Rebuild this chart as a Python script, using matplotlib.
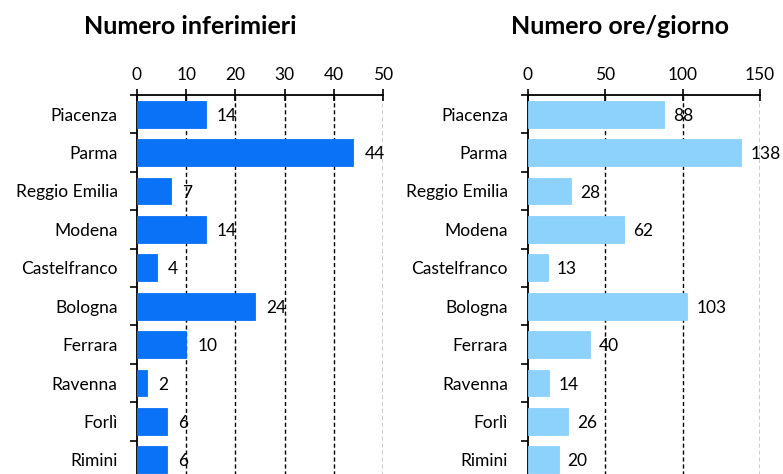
import matplotlib.pyplot as plt
import numpy as np

plt.rcParams['font.family'] = ['Lato', 'DejaVu Sans']

provinces = ["Piacenza", "Parma", "Reggio Emilia", "Modena", "Castelfranco",
             "Bologna", "Ferrara", "Ravenna", "Forlì", "Rimini"]
nurses = [14, 44, 7, 14, 4, 24, 10, 2, 6, 6]
hours_per_day = [88, 138, 28, 62, 13, 103, 40, 14, 26, 20]

W, H = 783, 474


def draw_panel(ax, values, color, xmax, step, label_offset):
    y = np.arange(len(provinces))
    ax.barh(y, values, height=0.7, color=color, edgecolor=color,
            linewidth=0.6, zorder=3)
    ax.set_ylim(len(provinces) - 0.5, -0.5)
    ax.set_xlim(0, xmax)

    ax.xaxis.set_ticks_position('top')
    ax.set_xticks(np.arange(0, xmax + 1, step))
    ax.tick_params(axis='x', direction='inout', length=8, width=1.2,
                   pad=5, labelsize=12.5)

    ax.set_yticks(y)
    ax.set_yticklabels(provinces)
    ax.set_yticks(np.arange(len(provinces) + 1) - 0.5, minor=True)
    ax.tick_params(axis='y', which='major', length=0, pad=14, labelsize=12.5)
    ax.tick_params(axis='y', which='minor', direction='out', length=5,
                   width=1.2)

    for xv in np.arange(step, xmax + 1, step):
        ax.axvline(xv, color='black', linestyle=(0, (3, 2)), linewidth=1,
                   zorder=1)

    for s in ['right', 'bottom']:
        ax.spines[s].set_visible(False)
    ax.spines['top'].set_linewidth(1.3)
    ax.spines['left'].set_linewidth(1.3)

    for yi, v in zip(y, values):
        ax.annotate(str(v), (v, yi), xytext=(label_offset, 0),
                    textcoords='offset points', va='center_baseline',
                    ha='left', fontsize=12.5, zorder=4)


fig = plt.figure(figsize=(W / 100, H / 100), dpi=100)

top = 95
bottom = 479
ax1 = fig.add_axes([137 / W, 1 - bottom / H, (383 - 137) / W, (bottom - top) / H])
ax2 = fig.add_axes([527.5 / W, 1 - bottom / H, (760 - 527.5) / W, (bottom - top) / H])

draw_panel(ax1, nurses, '#0A72F7', 50, 10, 8)
draw_panel(ax2, hours_per_day, '#8CD2FD', 150, 50, 6.5)

fig.text(190 / W, 1 - 26 / H, "Numero inferimieri", ha='center', va='center',
         fontsize=18, fontweight='bold')
fig.text(620 / W, 1 - 26 / H, "Numero ore/giorno", ha='center', va='center',
         fontsize=18, fontweight='bold')

fig.savefig("out.png", dpi=100)
